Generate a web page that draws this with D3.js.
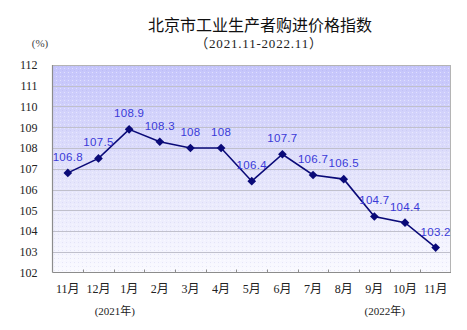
<!DOCTYPE html>
<html>
<head>
<meta charset="utf-8">
<script src="https://cdn.jsdelivr.net/npm/d3@7/dist/d3.min.js"></script>
<style>
  html, body { margin: 0; padding: 0; background: #fff; }
  svg { display: block; }
</style>
</head>
<body>
<svg id="chart" width="467" height="330"></svg>
<script>
// Beijing producer purchase price index, Nov 2021 – Nov 2022
const months = ["11月", "12月", "1月", "2月", "3月", "4月", "5月", "6月", "7月", "8月", "9月", "10月", "11月"];
const values = [106.8, 107.5, 108.9, 108.3, 108, 108, 106.4, 107.7, 106.7, 106.5, 104.7, 104.4, 103.2];
const valueLabels = ["106.8", "107.5", "108.9", "108.3", "108", "108", "106.4", "107.7", "106.7", "106.5", "104.7", "104.4", "103.2"];
const yTicks = [102, 103, 104, 105, 106, 107, 108, 109, 110, 111, 112];
const yearNotes = ["(2021年)", "(2022年)"];

const svg = d3.select("#chart");
const W = 467, H = 330;
const x0 = 52.5, x1 = 451;
const y0 = 65, y1 = 272.5;

const x = d3.scaleBand().domain(d3.range(months.length)).range([x0, x1]).padding(0);
const y = d3.scaleLinear().domain([102, 112]).range([y1, y0]);
const cx = i => x(i) + x.bandwidth() / 2;

const serif = "'Liberation Serif', 'Noto Sans CJK SC', serif";
const cjk = "'Noto Sans CJK SC', sans-serif";

// Plot background: lavender fading to white, with a fine dot texture
const defs = svg.append("defs");
const grad = defs.append("linearGradient").attr("id", "bg").attr("x1", 0).attr("y1", 0).attr("x2", 0).attr("y2", 1);
grad.append("stop").attr("offset", "0%").attr("stop-color", "#c4c4fb");
grad.append("stop").attr("offset", "50%").attr("stop-color", "#e2e2fb");
grad.append("stop").attr("offset", "100%").attr("stop-color", "#fafaff");

const dots = defs.append("pattern").attr("id", "dots").attr("width", 4).attr("height", 4).attr("patternUnits", "userSpaceOnUse");
dots.append("rect").attr("x", 0).attr("y", 0).attr("width", 1).attr("height", 1).attr("fill", "#ffffff").attr("opacity", 0.45);
dots.append("rect").attr("x", 2).attr("y", 2).attr("width", 1).attr("height", 1).attr("fill", "#9a9ad8").attr("opacity", 0.18);

svg.append("rect").attr("x", x0).attr("y", y0).attr("width", x1 - x0).attr("height", y1 - y0).attr("fill", "url(#bg)");
svg.append("rect").attr("x", x0).attr("y", y0).attr("width", x1 - x0).attr("height", y1 - y0).attr("fill", "url(#dots)");

// Horizontal gridlines
svg.append("g").selectAll("line").data(yTicks.slice(1)).join("line")
  .attr("x1", x0).attr("x2", x1)
  .attr("y1", d => Math.round(y(d)) + 0.5).attr("y2", d => Math.round(y(d)) + 0.5)
  .attr("stroke", d => d === 112 ? "#b4b4b4" : "#c0c0cc").attr("stroke-width", 1);

// Frame
svg.append("line").attr("x1", x1 - 0.5).attr("x2", x1 - 0.5).attr("y1", y0).attr("y2", y1).attr("stroke", "#b4b4b4");
svg.append("line").attr("x1", x0).attr("x2", x0).attr("y1", y0).attr("y2", y1).attr("stroke", "#8c8c8c").attr("stroke-width", 1.2);
svg.append("line").attr("x1", x0).attr("x2", x1).attr("y1", y1).attr("y2", y1).attr("stroke", "#8c8c8c").attr("stroke-width", 1.2);

// Y axis labels
const yAxis = d3.axisLeft(y).tickValues(yTicks).tickSize(0).tickPadding(15);
const yg = svg.append("g").attr("transform", `translate(${x0},0)`).call(yAxis);
yg.select(".domain").remove();
yg.selectAll("text").attr("font-family", serif).attr("font-size", 12).attr("fill", "#222");

// X axis: small inward ticks between categories, labels centred on categories
svg.append("g").selectAll("line").data(d3.range(1, months.length)).join("line")
  .attr("x1", i => Math.round(x(i)) + 0.5).attr("x2", i => Math.round(x(i)) + 0.5)
  .attr("y1", y1).attr("y2", y1 - 3).attr("stroke", "#8c8c8c");

svg.append("g").selectAll("text").data(months).join("text")
  .attr("x", (d, i) => cx(i)).attr("y", 293)
  .attr("text-anchor", "middle")
  .attr("font-family", serif).attr("font-size", 12).attr("fill", "#222")
  .text(d => d);

// Year notes sit under the first two and the last two months
const noteX = [(cx(1) + cx(2)) / 2 + 1, (cx(10) + cx(11)) / 2 - 5];
svg.append("g").selectAll("text").data(yearNotes).join("text")
  .attr("x", (d, i) => noteX[i]).attr("y", 315)
  .attr("text-anchor", "middle")
  .attr("font-family", serif).attr("font-size", 11).attr("fill", "#222")
  .text(d => d);

// Series line and diamond markers
const line = d3.line().x((d, i) => cx(i)).y(d => y(d));
svg.append("path").datum(values).attr("d", line)
  .attr("fill", "none").attr("stroke", "#0a0a78").attr("stroke-width", 1.6);

const diamond = d3.symbol().type(d3.symbolDiamond2).size(48);
svg.append("g").selectAll("path").data(values).join("path")
  .attr("transform", (d, i) => `translate(${cx(i)},${y(d)})`)
  .attr("d", diamond).attr("fill", "#0a0a78");

// Value labels
svg.append("g").selectAll("text").data(values).join("text")
  .attr("x", (d, i) => cx(i)).attr("y", d => y(d) - 12)
  .attr("text-anchor", "middle")
  .attr("font-family", "'Liberation Sans', sans-serif").attr("font-size", 11.5)
  .attr("letter-spacing", 0.3)
  .attr("fill", "#3a3ad8")
  .text((d, i) => valueLabels[i]);

// Titles
svg.append("text").attr("x", 260).attr("y", 31).attr("text-anchor", "middle")
  .attr("font-family", cjk).attr("font-size", 16).attr("fill", "#111")
  .text("北京市工业生产者购进价格指数");
svg.append("text").attr("x", 259).attr("y", 48).attr("text-anchor", "middle")
  .attr("font-family", serif).attr("font-size", 13).attr("letter-spacing", 0.8).attr("fill", "#222")
  .text("（2021.11-2022.11）");
svg.append("text").attr("x", 40).attr("y", 47).attr("text-anchor", "middle")
  .attr("font-family", serif).attr("font-size", 11).attr("fill", "#444")
  .text("(%)");
</script>
</body>
</html>
